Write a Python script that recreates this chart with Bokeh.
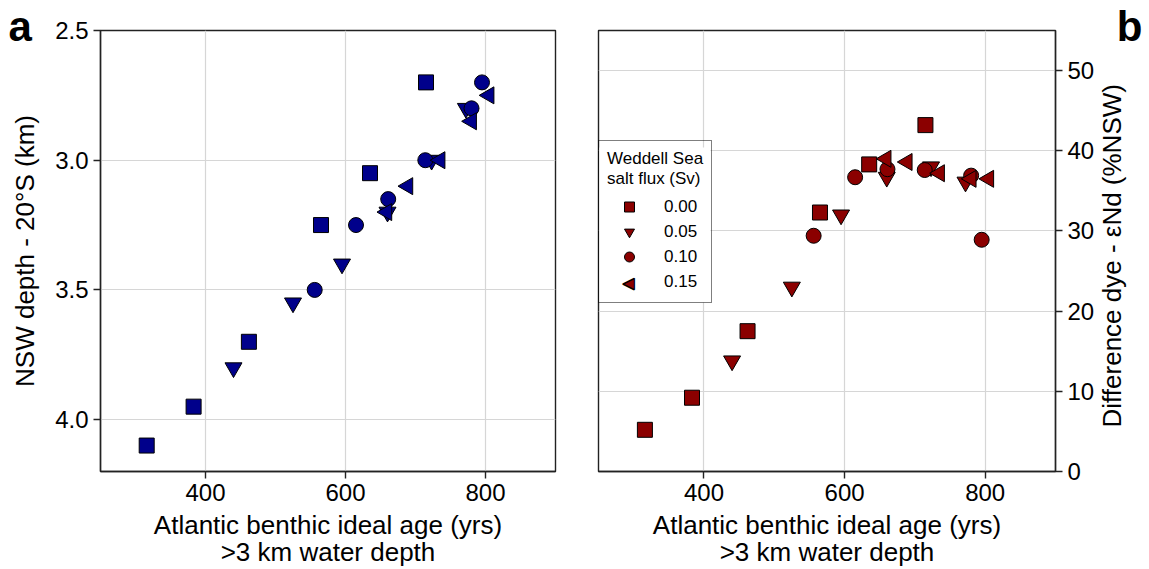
import math
from bokeh.plotting import figure
from bokeh.models import (Range1d, FixedTicker, Legend, LegendItem, Label, Title, LinearAxis,
                          BoxAnnotation, PrintfTickFormatter)
from bokeh.layouts import row
from bokeh.embed import file_html
from bokeh.resources import INLINE

# Weddell Sea salt flux (Sv) groups
flux_labels = ["0.00", "0.05", "0.10", "0.15"]

age_000 = [316, 383, 462, 565, 635, 715]
depth_000 = [4.10, 3.95, 3.70, 3.25, 3.05, 2.70]
dye_000 = [5.2, 9.2, 17.5, 32.3, 38.3, 43.2]

age_005 = [440, 525, 595, 660, 723, 772]
depth_005 = [3.80, 3.55, 3.40, 3.20, 3.00, 2.80]
dye_005 = [13.8, 23.0, 32.0, 36.7, 38.0, 36.1]

age_010 = [556, 615, 661, 714, 780, 795]
depth_010 = [3.50, 3.25, 3.15, 3.00, 2.80, 2.70]
dye_010 = [29.4, 36.7, 37.7, 37.6, 36.9, 28.9]

age_015 = [659, 689, 735, 780, 805]
depth_015 = [3.20, 3.10, 3.00, 2.85, 2.75]
dye_015 = [39.0, 38.6, 37.2, 36.5, 36.5]

x_ticks = [400, 600, 800]
depth_ticks = [2.5, 3.0, 3.5, 4.0]
dye_ticks = [0, 10, 20, 30, 40, 50]

FONT = "Liberation Sans"
TICK_PX = "24px"
LABEL_PX = "26px"
XLABEL = "Atlantic benthic ideal age (yrs)\n>3 km water depth"
YLABEL_B = "Difference dye - εNd (%NSW)"
FRAME_H = 441
DYE_LO, DYE_HI = 0, 55


def style(p):
    p.outline_line_color = "#222222"
    p.outline_line_width = 1.4
    p.background_fill_color = "white"
    p.border_fill_color = "white"
    for ax in p.axis:
        ax.axis_line_color = "#222222"
        ax.axis_line_width = 1.4
        ax.major_tick_line_color = "#222222"
        ax.major_tick_line_width = 1.4
        ax.major_tick_out = 7
        ax.major_tick_in = 0
        ax.minor_tick_line_color = None
        ax.major_label_text_font = FONT
        ax.major_label_text_font_size = TICK_PX
        ax.major_label_text_color = "black"
        ax.axis_label_text_font = FONT
        ax.axis_label_text_font_size = LABEL_PX
        ax.axis_label_text_font_style = "normal"
        ax.axis_label_text_color = "black"
        ax.axis_label_text_line_height = 0.9
        ax.major_label_standoff = 5
    for g in p.grid:
        g.grid_line_color = "#d6d6d6"
        g.grid_line_width = 1.2


def add_points(p, ys, color):
    r0 = p.scatter(age_000, ys[0], marker="square", size=15, fill_color=color,
                   line_color="black", line_width=1)
    r1 = p.scatter(age_005, ys[1], marker="inverted_triangle", size=17, fill_color=color,
                   line_color="black", line_width=1)
    r2 = p.scatter(age_010, ys[2], marker="circle", size=15, fill_color=color,
                   line_color="black", line_width=1)
    r3 = p.scatter(age_015, ys[3], marker="triangle", angle=math.pi / 2, size=17,
                   fill_color=color, line_color="black", line_width=1)
    return [r0, r1, r2, r3]


def panel_tag(text, align, offset):
    return Title(text=text, align=align, offset=offset, standoff=-39,
                 text_font=FONT, text_font_size="42px", text_font_style="bold",
                 text_color="black", vertical_align="bottom")


# ---- panel a ----
p1 = figure(frame_width=455, frame_height=FRAME_H, output_backend="svg", toolbar_location=None,
            x_range=Range1d(250, 900), y_range=Range1d(4.2, 2.5),
            min_border_left=100, min_border_right=20, min_border_top=30, min_border_bottom=98)
add_points(p1, [depth_000, depth_005, depth_010, depth_015], "#00008b")
p1.xaxis.ticker = FixedTicker(ticks=x_ticks)
p1.yaxis.ticker = FixedTicker(ticks=depth_ticks)
p1.yaxis.formatter = PrintfTickFormatter(format="%.1f")
p1.xaxis.axis_label = XLABEL
p1.yaxis.axis_label = "NSW depth - 20°S (km)"
p1.yaxis.axis_label_standoff = 12
p1.xaxis.axis_label_standoff = 6
style(p1)
p1.add_layout(panel_tag("a", "left", -92), "above")

# ---- panel b ----
p2 = figure(frame_width=457, frame_height=FRAME_H, output_backend="svg", toolbar_location=None,
            x_range=Range1d(250, 900), y_range=Range1d(DYE_LO, DYE_HI), y_axis_location="right",
            min_border_left=23, min_border_right=94, min_border_top=30, min_border_bottom=98)
rs = add_points(p2, [dye_000, dye_005, dye_010, dye_015], "#8b0000")
p2.xaxis.ticker = FixedTicker(ticks=x_ticks)
p2.yaxis.ticker = FixedTicker(ticks=dye_ticks)
p2.xaxis.axis_label = XLABEL
p2.xaxis.axis_label_standoff = 6
style(p2)
p2.add_layout(panel_tag("b", "right", -87), "above")

# right-hand y label, written bottom-to-top, carried by an outer label-only axis
anchor_px = 44  # label starts this many pixels above the frame bottom
label_anchor = round(DYE_LO + (DYE_HI - DYE_LO) * anchor_px / FRAME_H, 2)
lab_axis = LinearAxis(ticker=FixedTicker(ticks=[label_anchor]),
                      major_label_overrides={label_anchor: YLABEL_B},
                      major_label_orientation=math.pi / 2,
                      major_label_text_font=FONT, major_label_text_font_size=LABEL_PX,
                      major_label_text_color="black", major_label_standoff=15,
                      axis_line_color=None, major_tick_line_color=None,
                      minor_tick_line_color=None, major_tick_out=0, major_tick_in=0)
p2.add_layout(lab_axis, "right")

# legend: the 0.15 entry uses an invisible stand-in; its left-pointing symbol is drawn as text
legend_stub = p2.scatter([], [], marker="triangle", size=17, fill_alpha=0, line_alpha=0)
item_renderers = rs[:3] + [legend_stub]
LEG_Y0 = 168
LEG_PAD = 8
GLYPH_W = 44
GLYPH_H = 25
# white backing under the (transparent) legend so the grid does not show through
p2.add_layout(BoxAnnotation(left=1, right=112, bottom=LEG_Y0 + 1, top=LEG_Y0 + 156,
                            left_units="screen", right_units="screen",
                            bottom_units="screen", top_units="screen",
                            fill_color="white", fill_alpha=1.0, line_color=None))
tri = Label(x=LEG_PAD + GLYPH_W / 2, y=LEG_Y0 + LEG_PAD + GLYPH_H / 2,
            x_units="screen", y_units="screen", text="◀", text_align="center",
            text_baseline="middle", text_font="DejaVu Sans", text_font_size="15px",
            text_color="#8b0000")
if "text_outline_color" in tri.properties():
    tri.text_outline_color = "black"
p2.add_layout(tri)
legend = Legend(items=[LegendItem(label=l, renderers=[r]) for l, r in zip(flux_labels, item_renderers)],
                location=(0, LEG_Y0), title="Weddell Sea\nsalt flux (Sv)",
                title_text_font=FONT, title_text_font_size="17px", title_text_font_style="normal",
                title_text_color="black",
                label_text_font=FONT, label_text_font_size="17px", label_text_color="black",
                border_line_color="black", border_line_width=1.5,
                background_fill_alpha=0.0, padding=LEG_PAD, spacing=0,
                glyph_width=GLYPH_W, glyph_height=GLYPH_H, label_standoff=13, label_height=24)
p2.add_layout(legend, "center")

layout = row(p1, p2)
open("out.html", "w").write(file_html(layout, INLINE))
